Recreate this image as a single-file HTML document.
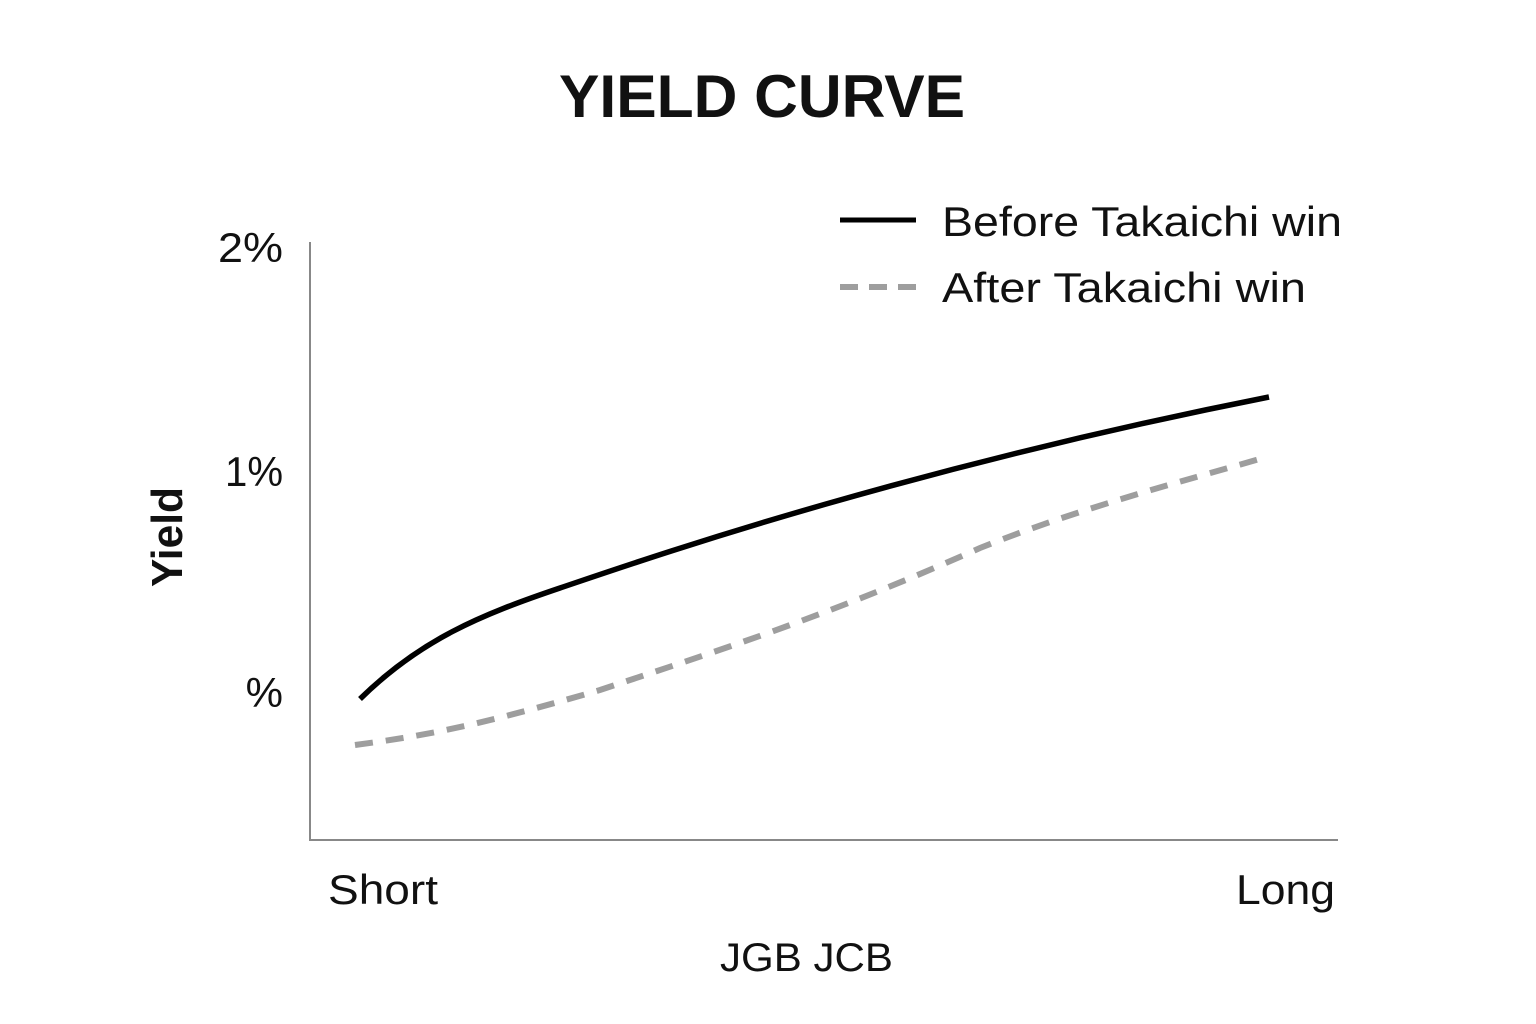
<!DOCTYPE html>
<html><head><meta charset="utf-8"><style>
html,body{margin:0;padding:0;background:#fff;}
svg{display:block;font-family:"Liberation Sans",sans-serif;}
</style></head><body>
<svg width="1536" height="1024" viewBox="0 0 1536 1024">
<rect width="1536" height="1024" fill="#fff"/>
<text x="762" y="117" text-anchor="middle" font-size="60" font-weight="bold" fill="#111" textLength="406" lengthAdjust="spacingAndGlyphs">YIELD CURVE</text>
<line x1="310" y1="242" x2="310" y2="840" stroke="#888" stroke-width="2"/>
<line x1="309" y1="840" x2="1338" y2="840" stroke="#888" stroke-width="2"/>
<g font-size="42" fill="#111">
<text x="283" y="262" text-anchor="end" textLength="65" lengthAdjust="spacingAndGlyphs">2%</text>
<text x="283" y="486" text-anchor="end" textLength="58" lengthAdjust="spacingAndGlyphs">1%</text>
<text x="283" y="707" text-anchor="end">%</text>
<text x="328" y="904" textLength="110" lengthAdjust="spacingAndGlyphs">Short</text>
<text x="1236" y="904" textLength="99" lengthAdjust="spacingAndGlyphs">Long</text>
<text x="720" y="971" font-size="40" textLength="173" lengthAdjust="spacingAndGlyphs">JGB JCB</text>
<text transform="translate(182,537) rotate(-90)" text-anchor="middle" font-size="44" font-weight="bold" textLength="100" lengthAdjust="spacingAndGlyphs">Yield</text>
</g>
<path d="M360,699 C420,640 480,615 560,588 S900,470 1269,397" fill="none" stroke="#000" stroke-width="5.5"/>
<path d="M355,745 C430,735 480,725 600,690 C720,650 830,615 980,548 C1080,508 1180,482 1263,458" fill="none" stroke="#9e9e9e" stroke-width="6" stroke-dasharray="18,13"/>
<line x1="840" y1="220" x2="916" y2="220" stroke="#000" stroke-width="5"/>
<line x1="840" y1="287" x2="916" y2="287" stroke="#9e9e9e" stroke-width="6" stroke-dasharray="18,11"/>
<text x="942" y="236" font-size="42" fill="#111" textLength="400" lengthAdjust="spacingAndGlyphs">Before Takaichi win</text>
<text x="942" y="302" font-size="42" fill="#111" textLength="364" lengthAdjust="spacingAndGlyphs">After Takaichi win</text>
</svg>
</body></html>
